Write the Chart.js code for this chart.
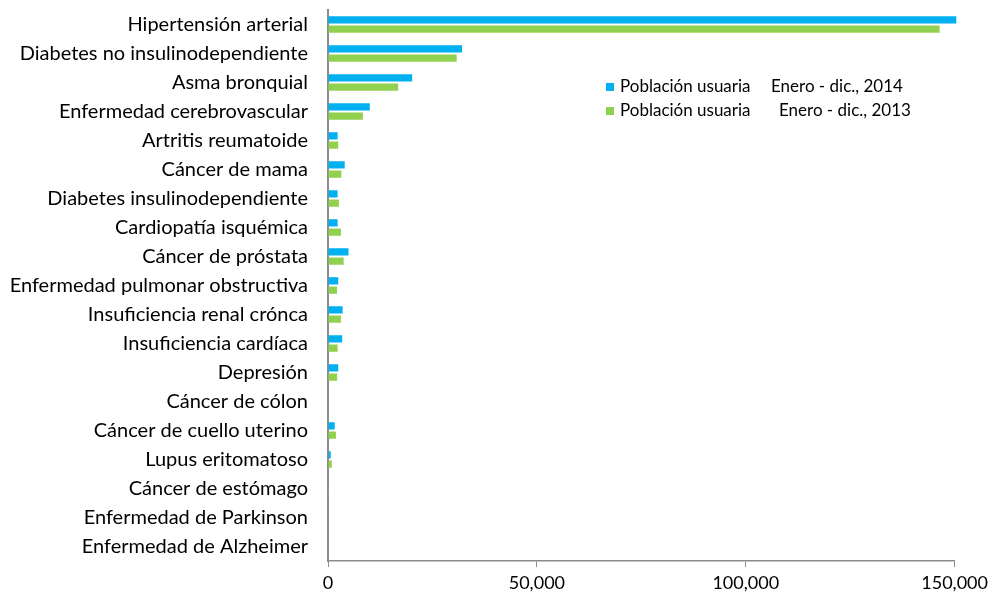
<!DOCTYPE html>
<html>
<head>
<meta charset="utf-8">
<script src="https://cdn.jsdelivr.net/npm/chart.js@4.4.1/dist/chart.umd.min.js"></script>
<style>
  html, body { margin: 0; padding: 0; background: #fff; }
  #wrap { position: relative; width: 993px; height: 596px; }
</style>
</head>
<body>
<div id="wrap"><canvas id="c" width="993" height="596"></canvas></div>
<script>
const categories = [
  "Hipertensión arterial",
  "Diabetes no insulinodependiente",
  "Asma bronquial",
  "Enfermedad cerebrovascular",
  "Artritis reumatoide",
  "Cáncer de mama",
  "Diabetes insulinodependiente",
  "Cardiopatía isquémica",
  "Cáncer de próstata",
  "Enfermedad pulmonar obstructiva",
  "Insuficiencia renal crónca",
  "Insuficiencia cardíaca",
  "Depresión",
  "Cáncer de cólon",
  "Cáncer de cuello uterino",
  "Lupus eritomatoso",
  "Cáncer de estómago",
  "Enfermedad de Parkinson",
  "Enfermedad de Alzheimer"
];
const values2014 = [150400, 32100, 20150, 10000, 2300, 4000, 2300, 2300, 4900, 2450, 3500, 3400, 2450, 0, 1600, 650, 0, 0, 0];
const values2013 = [146400, 30800, 16800, 8350, 2450, 3200, 2600, 3100, 3750, 2150, 3100, 2300, 2200, 100, 1900, 900, 50, 0, 0];
const seriesNames = ["Población usuaria", "Población usuaria"];
const seriesPeriods = ["Enero - dic., 2014", "Enero - dic., 2013"];
const xTicks = [0, 50000, 100000, 150000];

const BLUE = "#00B0F0", GREEN = "#92D050", AXIS = "#8C8C8C";
const FONT = "Lato, 'Liberation Sans', sans-serif";

const legendPlugin = {
  id: "customLegend",
  afterDraw(chart) {
    const ctx = chart.ctx;
    ctx.save();
    ctx.font = "17px " + FONT;
    ctx.textBaseline = "middle";
    const rows = [
      { y: 87, color: BLUE, nameX: 620, periodX: 771 },
      { y: 111, color: GREEN, nameX: 620, periodX: 779 }
    ];
    rows.forEach((r, i) => {
      ctx.fillStyle = r.color;
      ctx.fillRect(606, r.y - 4, 8, 8);
      ctx.fillStyle = "#000";
      ctx.textAlign = "left";
      ctx.fillText(seriesNames[i], r.nameX, r.y);
      ctx.fillText(seriesPeriods[i], r.periodX, r.y);
    });
    ctx.restore();
  }
};

new Chart(document.getElementById("c"), {
  type: "bar",
  data: {
    labels: categories,
    datasets: [
      { label: seriesNames[0] + " " + seriesPeriods[0], data: values2014, backgroundColor: BLUE, clip: false },
      { label: seriesNames[1] + " " + seriesPeriods[1], data: values2013, backgroundColor: GREEN, clip: false }
    ]
  },
  options: {
    indexAxis: "y",
    responsive: false,
    animation: false,
    events: [],
    layout: { padding: { left: 8, right: 37, top: 10, bottom: 0 } },
    datasets: { bar: { categoryPercentage: 0.64, barPercentage: 0.78 } },
    plugins: { legend: { display: false }, tooltip: { enabled: false } },
    scales: {
      x: {
        min: 0, max: 150000,
        afterBuildTicks(scale) { scale.ticks = xTicks.map(v => ({ value: v })); },
        afterFit(scale) { scale.height = 35; },
        grid: { drawOnChartArea: false, drawTicks: true, tickLength: 6, color: AXIS, lineWidth: 1 },
        border: { display: true, color: AXIS, width: 1.5 },
        ticks: {
          color: "#000", font: { family: FONT, size: 18 }, padding: 5, maxRotation: 0,
          callback: v => v.toLocaleString("en-US")
        }
      },
      y: {
        afterFit(scale) { scale.width = 320; scale.paddingTop = 0; scale.paddingBottom = 0; },
        grid: { display: false, drawTicks: false },
        border: { display: true, color: AXIS, width: 2 },
        ticks: { color: "#000", font: { family: FONT, size: 20 }, padding: 20, autoSkip: false }
      }
    }
  },
  plugins: [legendPlugin]
});
</script>
</body>
</html>
